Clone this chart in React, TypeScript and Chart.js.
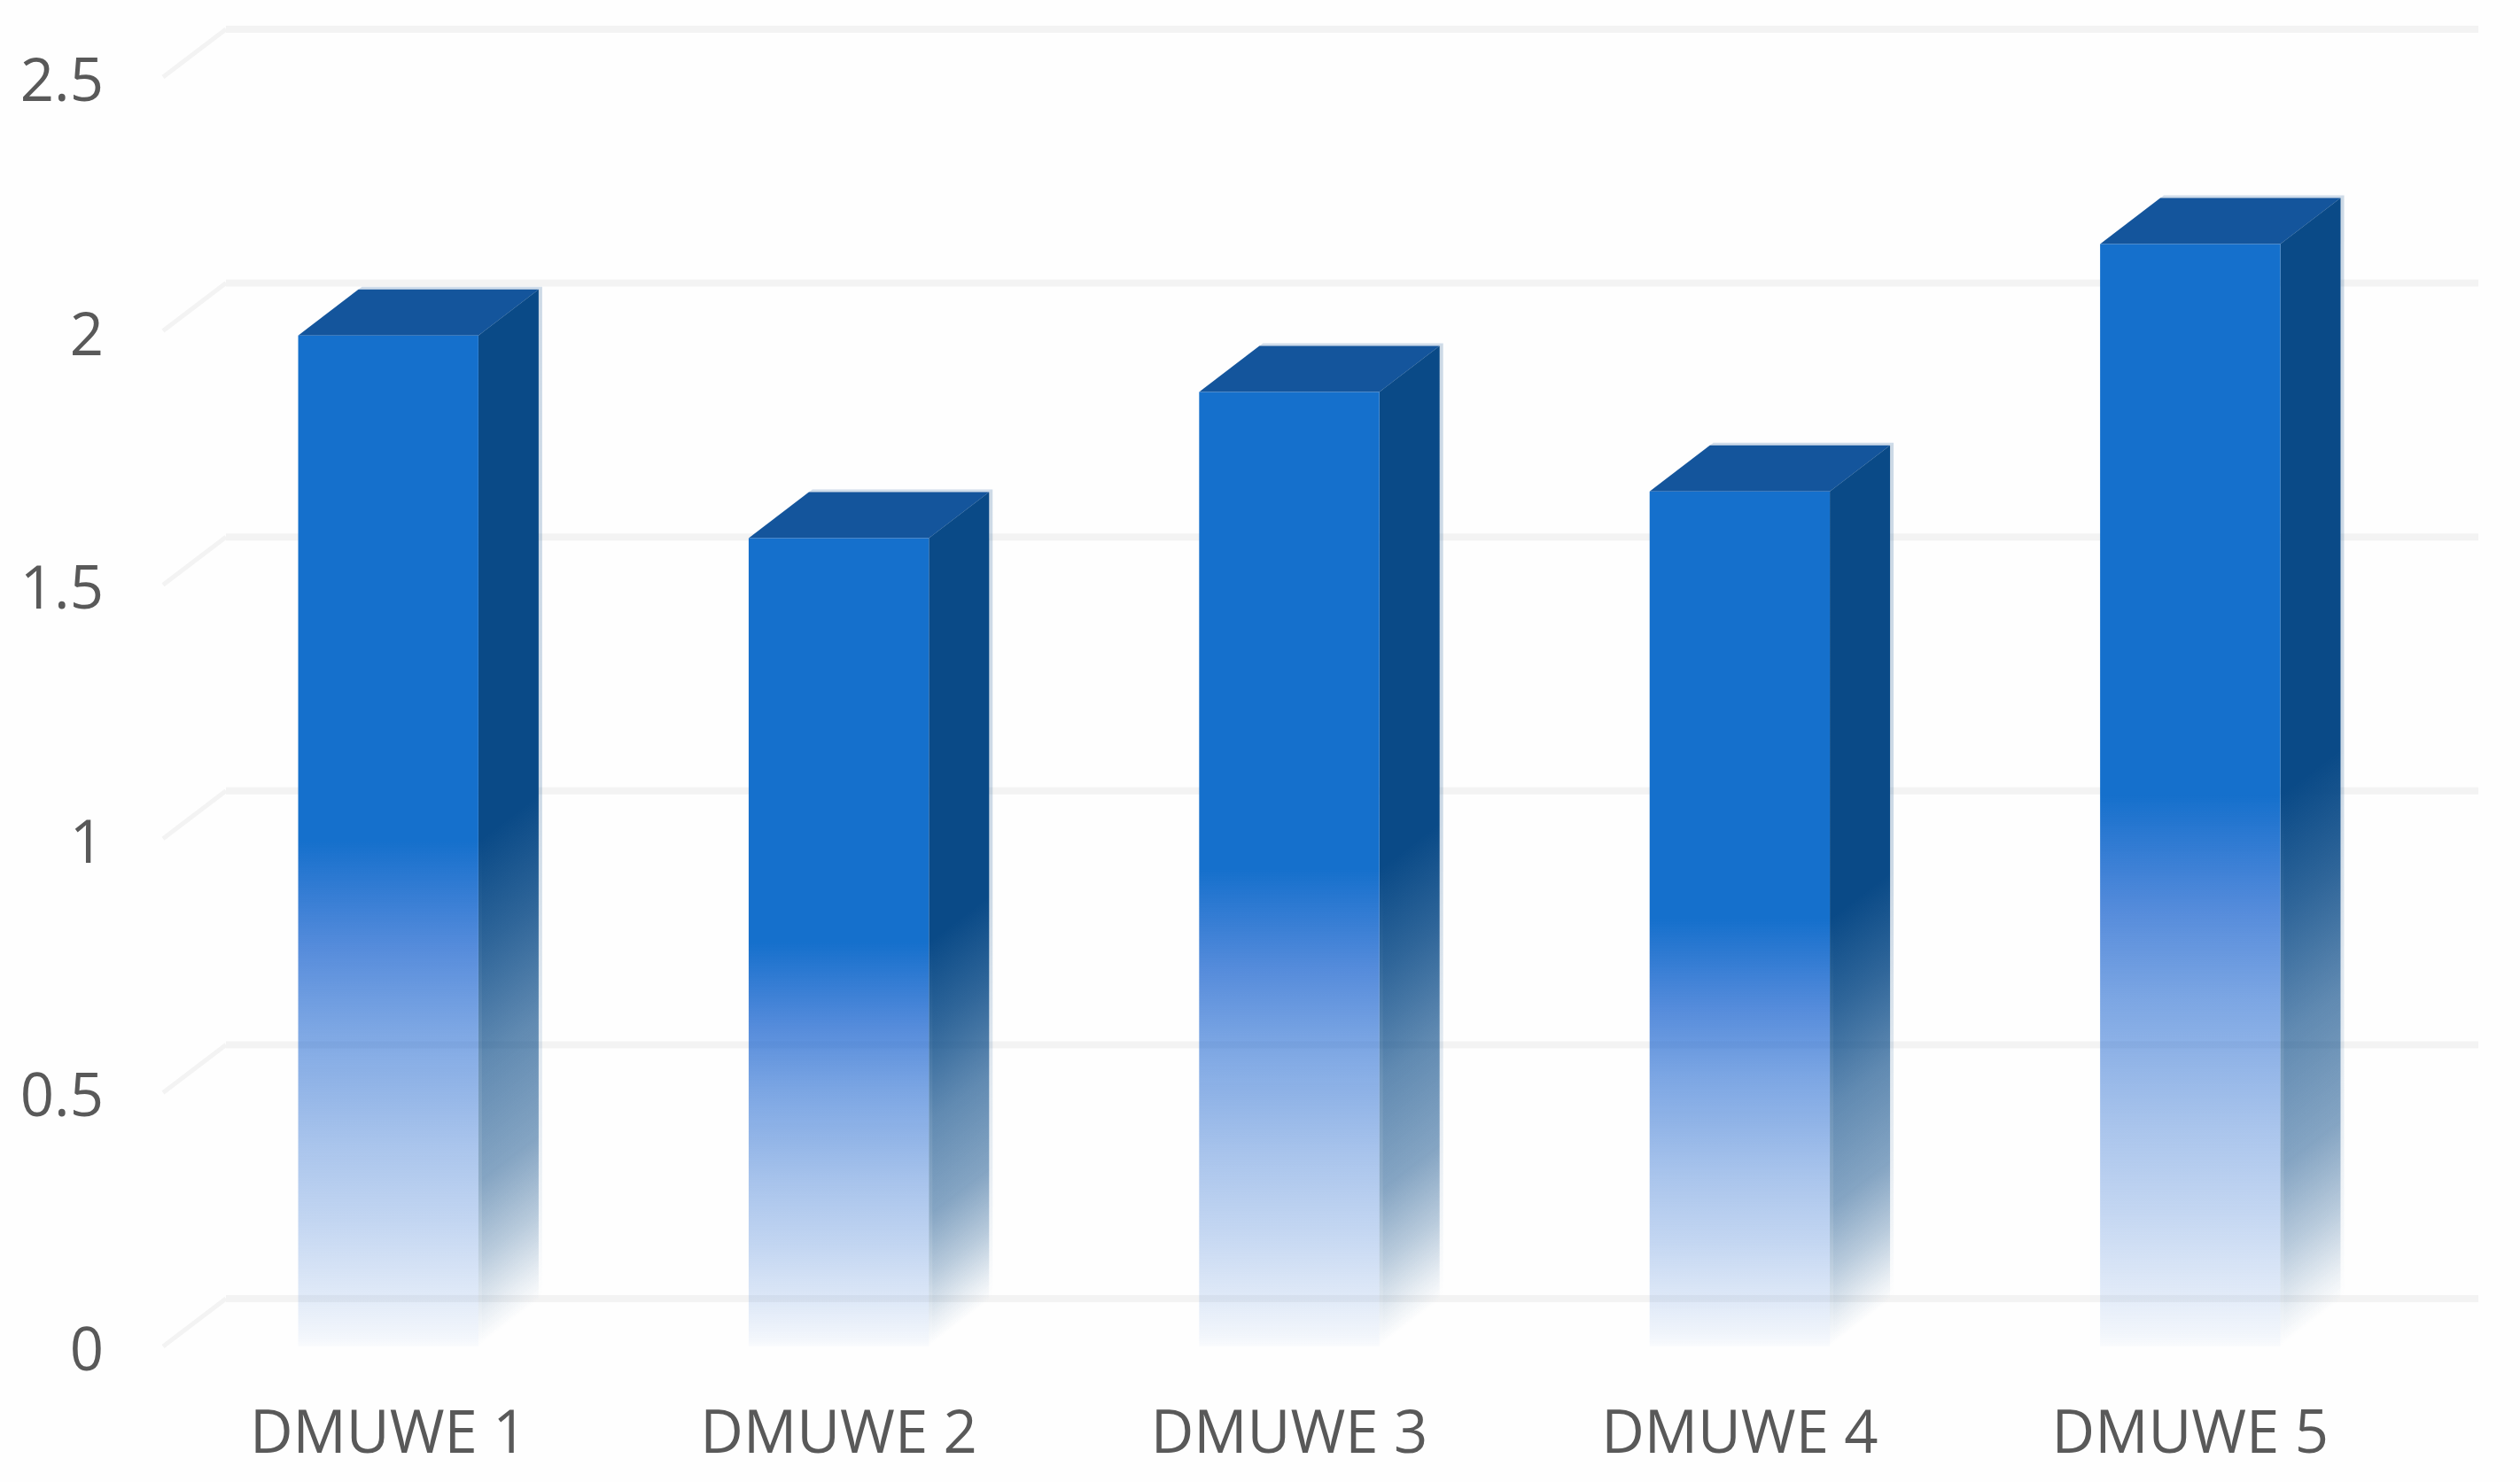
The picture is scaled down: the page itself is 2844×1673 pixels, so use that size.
import React, { useEffect, useRef } from "react";
import { Chart, registerables } from "chart.js";

Chart.register(...registerables);

const categories = ["DMUWE 1", "DMUWE 2", "DMUWE 3", "DMUWE 4", "DMUWE 5"];
const efficiency = [1.991, 1.592, 1.88, 1.684, 2.171];
const yTicks = [0, 0.5, 1, 1.5, 2, 2.5];

const FRONT = "#1570CC";
const TOP = "#14559C";
const frontStops: [number, number][] = [[0.607, 0.73], [0.684, 0.57], [0.8, 0.37], [0.875, 0.26], [0.95, 0.13], [0.99, 0.05], [1, 0.02]];
const sideStops: [number, number][] = [[0, 1], [0.5, 1], [0.607, 0.82], [0.72, 0.6], [0.836, 0.45], [0.913, 0.25], [0.97, 0.08], [1, 0]];

const depthPlugin = {
  id: "depth",
  beforeDatasetsDraw(chart: any) {
    const { ctx, scales, chartArea } = chart;
    const y = scales.y;
    const gx = 71, gy = 54, sx = 68, sy = 52;
    ctx.save();
    ctx.strokeStyle = "#F3F3F3";
    yTicks.forEach((t) => {
      const p = y.getPixelForValue(t);
      ctx.lineWidth = 8;
      ctx.beginPath();
      ctx.moveTo(chartArea.left + gx, p - gy);
      ctx.lineTo(chartArea.right + gx, p - gy);
      ctx.stroke();
      ctx.lineWidth = 5;
      ctx.beginPath();
      ctx.moveTo(chartArea.left, p);
      ctx.lineTo(chartArea.left + gx, p - gy);
      ctx.stroke();
    });
    chart.getDatasetMeta(0).data.forEach((bar: any) => {
      const l = bar.x - bar.width / 2;
      const r = bar.x + bar.width / 2;
      const t = bar.y;
      const b = bar.base;
      const h = b - t;
      // gradient whose lines of equal colour run along the depth direction
      const len = Math.hypot(sx, sy);
      const nx = sy / len, ny = sx / len;
      const reach = (h * sx) / len;
      const g = ctx.createLinearGradient(r, t, r + nx * reach, t + ny * reach);
      sideStops.forEach(([o, a]) => g.addColorStop(o, `rgba(10,74,135,${a})`));

      const topFace = (ox: number, oy: number) => {
        ctx.beginPath();
        ctx.moveTo(l + ox, t + oy);
        ctx.lineTo(l + sx + ox, t - sy + oy);
        ctx.lineTo(r + sx + ox, t - sy + oy);
        ctx.lineTo(r + ox, t + oy);
        ctx.closePath();
        ctx.fill();
      };
      const sideFace = (ox: number, oy: number) => {
        ctx.beginPath();
        ctx.moveTo(r + ox, t + oy);
        ctx.lineTo(r + sx + ox, t - sy + oy);
        ctx.lineTo(r + sx + ox, b - sy);
        ctx.lineTo(r + ox, b);
        ctx.closePath();
        ctx.fill();
      };
      // pale fringe
      ctx.globalAlpha = 0.2;
      ctx.fillStyle = TOP;
      topFace(4, -3);
      ctx.fillStyle = g;
      sideFace(4, -3);
      ctx.globalAlpha = 1;
      // faces
      ctx.fillStyle = TOP;
      topFace(0, 0);
      ctx.fillStyle = g;
      sideFace(0, 0);
    });
    ctx.restore();
  },
};

export default function App() {
  const ref = useRef<HTMLCanvasElement | null>(null);
  useEffect(() => {
    document.body.style.margin = "0";
    const chart = new Chart(ref.current as HTMLCanvasElement, {
      type: "bar",
      data: {
        labels: categories,
        datasets: [
          {
            label: "Efficiency",
            data: efficiency,
            barPercentage: 0.4,
            categoryPercentage: 1,
            borderWidth: 0,
            backgroundColor: (c: any) => {
              const area = c.chart.chartArea;
              if (!area || c.raw === undefined) return FRONT;
              const top = c.chart.scales.y.getPixelForValue(c.raw);
              const base = c.chart.scales.y.getPixelForValue(0);
              const g = c.chart.ctx.createLinearGradient(0, top, 0, base);
              g.addColorStop(0, FRONT);
              g.addColorStop(0.5, FRONT);
              frontStops.forEach(([o, a]) => g.addColorStop(o, `rgba(24,98,206,${a})`));
              return g;
            },
          },
        ],
      },
      options: {
        animation: false,
        responsive: false,
        layout: { autoPadding: false, padding: { top: 87, right: 118, left: 0, bottom: 0 } },
        plugins: { legend: { display: false }, title: { display: false }, tooltip: { enabled: false } },
        scales: {
          x: {
            grid: { display: false },
            border: { display: false },
            afterFit: (s: any) => { s.height = 153; },
            ticks: {
              color: "#595959",
              padding: 53,
              font: { family: "'Open Sans'", size: 67 },
              maxRotation: 0,
            },
          },
          y: {
            min: 0,
            max: 2.5,
            grid: { display: false },
            border: { display: false },
            afterFit: (s: any) => { s.width = 184; s.paddingTop = 0; s.paddingBottom = 0; },
            afterBuildTicks: (s: any) => { s.ticks = yTicks.map((value) => ({ value })); },
            ticks: {
              color: "#595959",
              padding: 59,
              labelOffset: 8,
              font: { family: "'Open Sans'", size: 67 },
              callback: (v: any) => String(v),
            },
          },
        },
      },
      plugins: [depthPlugin],
    } as any);
    return () => chart.destroy();
  }, []);
  return (
    <canvas
      ref={ref}
      width={2844}
      height={1673}
      style={{ display: "block", position: "fixed", left: 0, top: 0, width: 2844, height: 1673, background: "#FEFEFE" }}
    />
  );
}
